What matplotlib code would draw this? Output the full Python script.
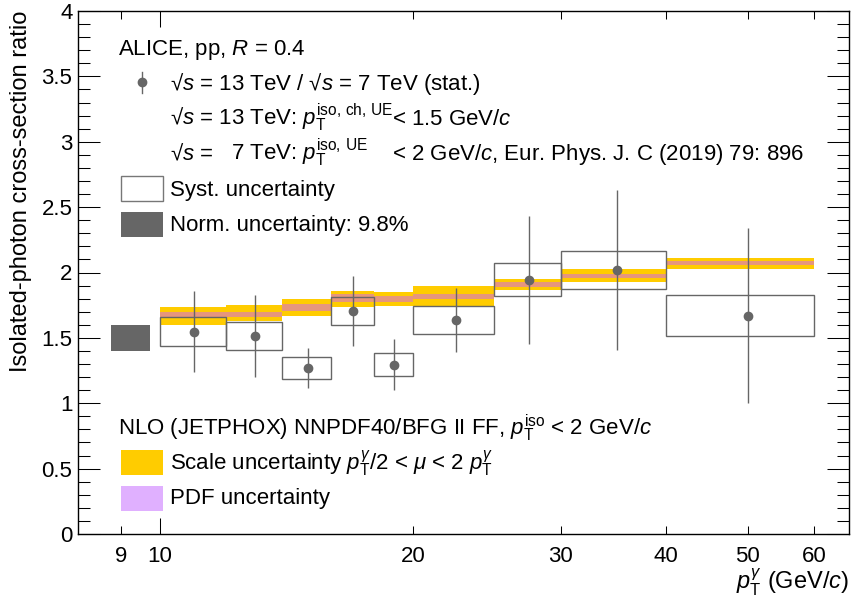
import matplotlib
matplotlib.use("Agg")
import matplotlib.pyplot as plt
from matplotlib.patches import Rectangle
from matplotlib.lines import Line2D
from matplotlib.ticker import FixedLocator, FixedFormatter, MultipleLocator, FuncFormatter

plt.rcParams['font.family'] = ['Liberation Sans', 'DejaVu Sans']
plt.rcParams['mathtext.fontset'] = 'custom'
plt.rcParams['mathtext.rm'] = 'Liberation Sans'
plt.rcParams['mathtext.it'] = 'Liberation Sans:italic'
plt.rcParams['mathtext.bf'] = 'Liberation Sans:bold'

# pT bins (GeV/c)
bin_lo = [10, 12, 14, 16, 18, 20, 25, 30, 40]
bin_hi = [12, 14, 16, 18, 20, 25, 30, 40, 60]
pt = [11, 13, 15, 17, 19, 22.5, 27.5, 35, 50]

# measured 13 TeV / 7 TeV ratio
ratio = [1.547, 1.514, 1.270, 1.706, 1.295, 1.637, 1.945, 2.017, 1.670]
stat = [0.31, 0.313, 0.153, 0.27, 0.196, 0.247, 0.49, 0.612, 0.67]
syst = [0.11, 0.11, 0.082, 0.108, 0.086, 0.105, 0.125, 0.146, 0.155]

# NLO JETPHOX bands
scale_lo = [1.602, 1.627, 1.667, 1.739, 1.744, 1.746, 1.864, 1.930, 2.024]
scale_hi = [1.736, 1.754, 1.795, 1.856, 1.851, 1.897, 1.953, 2.024, 2.114]
pdf_lo = [1.662, 1.662, 1.703, 1.774, 1.777, 1.795, 1.887, 1.958, 2.055]
pdf_hi = [1.700, 1.700, 1.761, 1.833, 1.822, 1.836, 1.930, 1.991, 2.088]

norm_center = 1.5
norm_unc = 0.098
norm_x = [8.75, 9.75]

W, H = 851, 608
YELLOW = "#FFCC00"
SALMON = "#E6967D"
VIOLET = "#E0B0FF"
GRAY = "#666666"
FS = 16
FS_LAB = 17

fig = plt.figure(figsize=(W / 100, H / 100), dpi=100)
ax = fig.add_axes([78 / W, 1 - 534 / H, (849 - 78) / W, (534 - 11) / H])
ax.set_xscale("log")
ax.set_xlim(8, 66)
ax.set_ylim(0, 4)

# theory bands
for lo, hi, slo, shi, plo, phi in zip(bin_lo, bin_hi, scale_lo, scale_hi, pdf_lo, pdf_hi):
    ax.add_patch(Rectangle((lo, slo), hi - lo, shi - slo, facecolor=YELLOW, edgecolor="none", zorder=1))
    ax.add_patch(Rectangle((lo, plo), hi - lo, phi - plo, facecolor=SALMON, edgecolor="none", zorder=2))

# systematic boxes
for lo, hi, r, s in zip(bin_lo, bin_hi, ratio, syst):
    ax.add_patch(Rectangle((lo, r - s), hi - lo, 2 * s, facecolor="none", edgecolor=GRAY, lw=1.0, zorder=3))

# normalisation uncertainty
ax.add_patch(Rectangle((norm_x[0], norm_center - norm_unc), norm_x[1] - norm_x[0], 2 * norm_unc,
                       facecolor=GRAY, edgecolor="none", zorder=3))

ax.errorbar(pt, ratio, yerr=stat, fmt="o", color=GRAY, ms=6, lw=1.0, capsize=0, zorder=4)

# axes styling
ax.xaxis.set_major_locator(FixedLocator([10]))
ax.xaxis.set_major_formatter(FixedFormatter(["10"]))
ax.xaxis.set_minor_locator(FixedLocator([9, 20, 30, 40, 50, 60]))
ax.xaxis.set_minor_formatter(FixedFormatter(["9", "20", "30", "40", "50", "60"]))
ax.yaxis.set_major_locator(MultipleLocator(0.5))
ax.yaxis.set_minor_locator(MultipleLocator(0.1))
ax.yaxis.set_major_formatter(FuncFormatter(lambda v, p: "%g" % v))
ax.tick_params(axis="both", which="both", direction="in", top=True, right=True, width=0.75, labelsize=FS)
ax.tick_params(axis="y", which="major", length=16, pad=4)
ax.tick_params(axis="y", which="minor", length=8.5)
ax.tick_params(axis="x", which="major", length=11.5, pad=9)
ax.tick_params(axis="x", which="minor", length=6, pad=9)
for sp in ax.spines.values():
    sp.set_linewidth(1.0)

ax.set_ylabel("Isolated-photon cross-section ratio", fontsize=FS_LAB, loc="top")
ax.yaxis.set_label_coords(-46 / (849 - 78), 1.0)


def fx(x, y):
    return x / W, 1 - y / H


fig.text(*fx(849, 590), r"$p_{\mathrm{T}}^{\gamma}$ (GeV/$c$)", fontsize=FS_LAB, ha="right", va="baseline")

# legend block
fig.text(*fx(118, 55), r"ALICE, pp, $R$ = 0.4", fontsize=FS, va="baseline")
fig.add_artist(Line2D([141.7 / W] * 2, [1 - 72 / H, 1 - 93 / H], color=GRAY, lw=1.0))
fig.add_artist(Line2D([141.7 / W], [1 - 82 / H], marker="o", color=GRAY, ms=6, transform=fig.transFigure))
fig.text(*fx(170, 90), r"√$s$ = 13 TeV / √$s$ = 7 TeV (stat.)", fontsize=FS, va="baseline")
fig.text(*fx(170, 125), r"√$s$ = 13 TeV: $p_{\mathrm{T}}^{\mathrm{iso,\,ch,\,UE}}$", fontsize=FS, va="baseline")
fig.text(*fx(392, 125), r"< 1.5 GeV/$c$", fontsize=FS, va="baseline")
fig.text(*fx(170, 160), r"√$s$ =", fontsize=FS, va="baseline")
fig.text(*fx(231, 160), r"7 TeV: $p_{\mathrm{T}}^{\mathrm{iso,\,UE}}$", fontsize=FS, va="baseline")
fig.text(*fx(392, 160), r"< 2 GeV/$c$, Eur. Phys. J. C (2019) 79: 896", fontsize=FS, va="baseline")

fig.add_artist(Rectangle(fx(120.7, 201), 42 / W, 25 / H, transform=fig.transFigure,
                         facecolor="white", edgecolor="#777777", lw=1.0))
fig.text(*fx(170, 196), "Syst. uncertainty", fontsize=FS, va="baseline")
fig.add_artist(Rectangle(fx(120.7, 237), 42 / W, 25 / H, transform=fig.transFigure,
                         facecolor=GRAY, edgecolor="none"))
fig.text(*fx(170, 231), "Norm. uncertainty: 9.8%", fontsize=FS, va="baseline")

fig.text(*fx(118, 435), r"NLO (JETPHOX) NNPDF40/BFG II FF, $p_{\mathrm{T}}^{\mathrm{iso}}$ < 2 GeV/$c$",
         fontsize=FS, va="baseline")
fig.add_artist(Rectangle(fx(120.7, 475), 42 / W, 25 / H, transform=fig.transFigure,
                         facecolor=YELLOW, edgecolor="none"))
fig.text(*fx(170, 470), r"Scale uncertainty $p_{\mathrm{T}}^{\gamma}$/2 < $\mu$ < 2 $p_{\mathrm{T}}^{\gamma}$",
         fontsize=FS, va="baseline")
fig.add_artist(Rectangle(fx(120.7, 511), 42 / W, 25 / H, transform=fig.transFigure,
                         facecolor=VIOLET, edgecolor="none"))
fig.text(*fx(170, 504), "PDF uncertainty", fontsize=FS, va="baseline")

fig.savefig("out.png", dpi=100)
